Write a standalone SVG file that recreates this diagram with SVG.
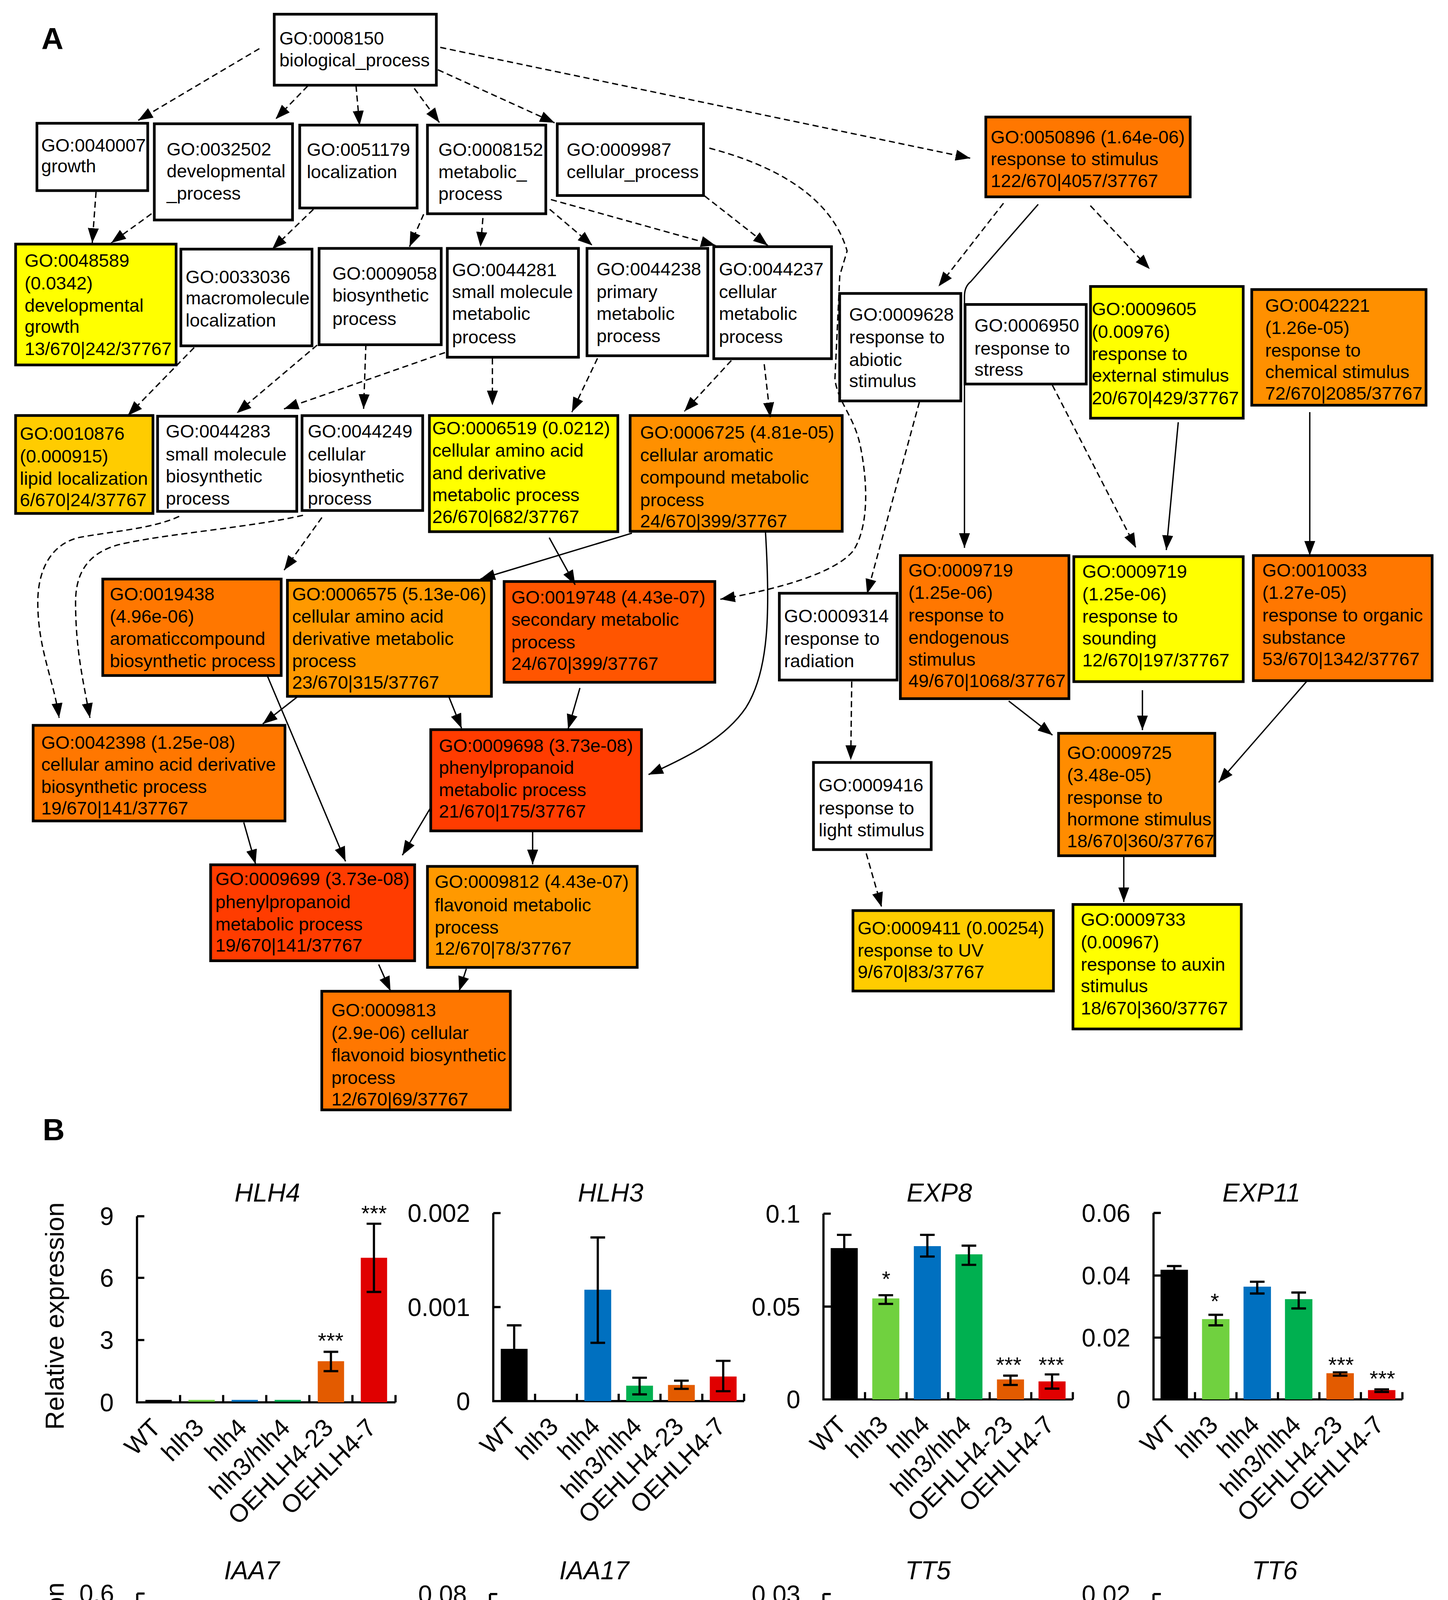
<svg xmlns="http://www.w3.org/2000/svg" width="3706" height="4914" viewBox="0 0 3706 4914">
<defs>
<marker id="ah" markerUnits="userSpaceOnUse" markerWidth="12" markerHeight="9" refX="12" refY="4.5" orient="auto" viewBox="0 0 12 9"><path d="M0,0 L12,4.5 L0,9 z" fill="#000" stroke="none"/></marker>
<style>
.n rect{stroke:#000;stroke-width:2.2}
.gt{font-family:"Liberation Sans",Arial,sans-serif;font-size:15px;fill:#000}
.d{fill:none;stroke:#000;stroke-width:1.1;stroke-dasharray:5 3;marker-end:url(#ah)}
.s{fill:none;stroke:#000;stroke-width:1.1;marker-end:url(#ah)}
.ax{fill:none;stroke:#000;stroke-width:1.8}
.eb{fill:none;stroke:#000;stroke-width:1.8}
.f{font-family:"Liberation Sans",Arial,sans-serif;fill:#000}
.tl{font-size:20.5px;text-anchor:end}
.xl{font-size:20.5px;text-anchor:end}
.ti{font-size:21px;font-style:italic;text-anchor:middle}
.st{font-size:18px;text-anchor:middle}
.yl{font-size:21.3px;text-anchor:middle}
.pl{font-size:25px;font-weight:bold}
.w{fill:#fff}.y{fill:#FFFF00}.g{fill:#FFCC00}.o1{fill:#FF9000}.o2{fill:#FF9900}.o3{fill:#FF7700}.o4{fill:#FF5500}.o5{fill:#FF3C00}.o6{fill:#FF8C00}
.c0{fill:#000}.c1{fill:#70D13F}.c2{fill:#0070C0}.c3{fill:#00B050}.c4{fill:#E35B00}.c5{fill:#E00000}
</style>
</defs>
<rect x="0" y="0" width="3706" height="4914" fill="#fff"/>
<g transform="scale(3.1195,3.134)">
<text class="f pl" x="34" y="40.3">A</text>
<text class="f pl" x="35" y="931.4">B</text>

<g id="nodes">
<g class="n" id="GO0008150"><rect class="w" x="225" y="11.6" width="133" height="58"/><text class="gt"><tspan x="229.2" y="36.4">GO:0008150</tspan><tspan x="229.2" y="54.4">biological_process</tspan></text></g>
<g class="n" id="GO0040007"><rect class="w" x="30.3" y="100.7" width="90.9" height="55"/><text class="gt"><tspan x="33.8" y="123.7">GO:0040007</tspan><tspan x="33.8" y="140.7">growth</tspan></text></g>
<g class="n" id="GO0032502"><rect class="w" x="126.6" y="101.1" width="113.4" height="78.6"/><text class="gt"><tspan x="136.7" y="127">GO:0032502</tspan><tspan x="136.7" y="145">developmental</tspan><tspan x="136.7" y="163">_process</tspan></text></g>
<g class="n" id="GO0051179"><rect class="w" x="245.9" y="102.2" width="96.3" height="67.7"/><text class="gt"><tspan x="251.7" y="127.4">GO:0051179</tspan><tspan x="251.7" y="145.4">localization</tspan></text></g>
<g class="n" id="GO0008152"><rect class="w" x="350.7" y="102.2" width="97.1" height="72.4"/><text class="gt"><tspan x="359.7" y="127.4">GO:0008152</tspan><tspan x="359.7" y="145.4">metabolic_</tspan><tspan x="359.7" y="163.4">process</tspan></text></g>
<g class="n" id="GO0009987"><rect class="w" x="457.2" y="101.1" width="120" height="58.6"/><text class="gt"><tspan x="464.9" y="127.4">GO:0009987</tspan><tspan x="464.9" y="145.4">cellular_process</tspan></text></g>
<g class="n" id="GO0050896"><rect class="o3" x="808.8" y="95.6" width="167.7" height="65.2"/><text class="gt"><tspan x="812.8" y="117.2">GO:0050896 (1.64e-06)</tspan><tspan x="812.8" y="135.1">response to stimulus</tspan><tspan x="812.8" y="152.9">122/670|4057/37767</tspan></text></g>
<g class="n" id="GO0048589"><rect class="y" x="12.8" y="199.4" width="131.7" height="98.7"/><text class="gt"><tspan x="20.2" y="218">GO:0048589</tspan><tspan x="20.2" y="236.3">(0.0342)</tspan><tspan x="20.2" y="254.6">developmental</tspan><tspan x="20.2" y="271.9">growth</tspan><tspan x="20.2" y="290.2">13/670|242/37767</tspan></text></g>
<g class="n" id="GO0033036"><rect class="w" x="148.4" y="203.5" width="107.6" height="79"/><text class="gt"><tspan x="152.3" y="231.2">GO:0033036</tspan><tspan x="152.3" y="248.5">macromolecule</tspan><tspan x="152.3" y="266.8">localization</tspan></text></g>
<g class="n" id="GO0009058"><rect class="w" x="261.8" y="202.9" width="100.2" height="78.7"/><text class="gt"><tspan x="272.7" y="228.5">GO:0009058</tspan><tspan x="272.7" y="246.4">biosynthetic</tspan><tspan x="272.7" y="265.4">process</tspan></text></g>
<g class="n" id="GO0044281"><rect class="w" x="367" y="202.9" width="107.6" height="88.9"/><text class="gt"><tspan x="370.9" y="225.5">GO:0044281</tspan><tspan x="370.9" y="243.4">small molecule</tspan><tspan x="370.9" y="261.3">metabolic</tspan><tspan x="370.9" y="280.4">process</tspan></text></g>
<g class="n" id="GO0044238"><rect class="w" x="481.6" y="202.9" width="99.1" height="87.7"/><text class="gt"><tspan x="489.4" y="225.1">GO:0044238</tspan><tspan x="489.4" y="243.4">primary</tspan><tspan x="489.4" y="261.3">metabolic</tspan><tspan x="489.4" y="279.6">process</tspan></text></g>
<g class="n" id="GO0044237"><rect class="w" x="585.6" y="201.5" width="96.6" height="91.5"/><text class="gt"><tspan x="589.8" y="225.1">GO:0044237</tspan><tspan x="589.8" y="243.4">cellular</tspan><tspan x="589.8" y="261.3">metabolic</tspan><tspan x="589.8" y="280">process</tspan></text></g>
<g class="n" id="GO0009628"><rect class="w" x="688.9" y="239.7" width="99.4" height="87.8"/><text class="gt"><tspan x="696.7" y="262.1">GO:0009628</tspan><tspan x="696.7" y="280.4">response to</tspan><tspan x="696.7" y="298.9">abiotic</tspan><tspan x="696.7" y="316.3">stimulus</tspan></text></g>
<g class="n" id="GO0006950"><rect class="w" x="791.8" y="248.7" width="99.4" height="65"/><text class="gt"><tspan x="799.5" y="270.9">GO:0006950</tspan><tspan x="799.5" y="289.8">response to</tspan><tspan x="799.5" y="307.1">stress</tspan></text></g>
<g class="n" id="GO0009605"><rect class="y" x="894.7" y="234" width="125.3" height="107.6"/><text class="gt"><tspan x="895.8" y="257.6">GO:0009605</tspan><tspan x="895.8" y="276">(0.00976)</tspan><tspan x="895.8" y="294.3">response to</tspan><tspan x="895.8" y="311.7">external stimulus</tspan><tspan x="895.8" y="330.1">20/670|429/37767</tspan></text></g>
<g class="n" id="GO0042221"><rect class="o1" x="1027" y="236.5" width="143" height="94.5"/><text class="gt"><tspan x="1038" y="254.6">GO:0042221</tspan><tspan x="1038" y="272.9">(1.26e-05)</tspan><tspan x="1038" y="291.2">response to</tspan><tspan x="1038" y="309">chemical stimulus</tspan><tspan x="1038" y="326.4">72/670|2085/37767</tspan></text></g>
<g class="n" id="GO0010876"><rect class="g" x="12.8" y="339.4" width="112.7" height="80"/><text class="gt"><tspan x="16.3" y="359.3">GO:0010876</tspan><tspan x="16.3" y="377.7">(0.000915)</tspan><tspan x="16.3" y="396">lipid localization</tspan><tspan x="16.3" y="413.4">6/670|24/37767</tspan></text></g>
<g class="n" id="GO0044283"><rect class="w" x="129.3" y="340" width="114.2" height="77.7"/><text class="gt"><tspan x="136" y="357.5">GO:0044283</tspan><tspan x="136" y="376.3">small molecule</tspan><tspan x="136" y="394.1">biosynthetic</tspan><tspan x="136" y="412.4">process</tspan></text></g>
<g class="n" id="GO0044249"><rect class="w" x="247.8" y="339.5" width="99" height="77.5"/><text class="gt"><tspan x="252.5" y="357.5">GO:0044249</tspan><tspan x="252.5" y="376.3">cellular</tspan><tspan x="252.5" y="394.1">biosynthetic</tspan><tspan x="252.5" y="412.4">process</tspan></text></g>
<g class="n" id="GO0006519"><rect class="y" x="352.3" y="339.4" width="154.6" height="94.9"/><text class="gt"><tspan x="354.6" y="354.7">GO:0006519 (0.0212)</tspan><tspan x="354.6" y="373.1">cellular amino acid</tspan><tspan x="354.6" y="391.4">and derivative</tspan><tspan x="354.6" y="409.3">metabolic process</tspan><tspan x="354.6" y="427.1">26/670|682/37767</tspan></text></g>
<g class="n" id="GO0006725"><rect class="o1" x="517" y="339.4" width="174" height="94.6"/><text class="gt"><tspan x="525.2" y="358.4">GO:0006725 (4.81e-05)</tspan><tspan x="525.2" y="376.7">cellular aromatic</tspan><tspan x="525.2" y="395">compound metabolic</tspan><tspan x="525.2" y="413.4">process</tspan><tspan x="525.2" y="430.8">24/670|399/37767</tspan></text></g>
<g class="n" id="GO0019438"><rect class="o3" x="84.3" y="473" width="146.4" height="78.8"/><text class="gt"><tspan x="90.1" y="490.3">GO:0019438</tspan><tspan x="90.1" y="508.6">(4.96e-06)</tspan><tspan x="90.1" y="526.9">aromaticcompound</tspan><tspan x="90.1" y="544.9">biosynthetic process</tspan></text></g>
<g class="n" id="GO0006575"><rect class="o2" x="235.8" y="474" width="167.4" height="94.8"/><text class="gt"><tspan x="239.7" y="490.3">GO:0006575 (5.13e-06)</tspan><tspan x="239.7" y="508.6">cellular amino acid</tspan><tspan x="239.7" y="526.9">derivative metabolic</tspan><tspan x="239.7" y="544.9">process</tspan><tspan x="239.7" y="562.6">23/670|315/37767</tspan></text></g>
<g class="n" id="GO0019748"><rect class="o4" x="413.6" y="475" width="172.9" height="82.3"/><text class="gt"><tspan x="419.5" y="493">GO:0019748 (4.43e-07)</tspan><tspan x="419.5" y="511.3">secondary metabolic</tspan><tspan x="419.5" y="529.7">process</tspan><tspan x="419.5" y="547.1">24/670|399/37767</tspan></text></g>
<g class="n" id="GO0009314"><rect class="w" x="639.4" y="484.6" width="96.6" height="70.9"/><text class="gt"><tspan x="643.3" y="508.3">GO:0009314</tspan><tspan x="643.3" y="526.9">response to</tspan><tspan x="643.3" y="544.9">radiation</tspan></text></g>
<g class="n" id="GO0009719a"><rect class="o3" x="738.7" y="453.8" width="138.3" height="116.9"/><text class="gt"><tspan x="745.3" y="471">GO:0009719</tspan><tspan x="745.3" y="489.3">(1.25e-06)</tspan><tspan x="745.3" y="507.6">response to</tspan><tspan x="745.3" y="526">endogenous</tspan><tspan x="745.3" y="543.8">stimulus</tspan><tspan x="745.3" y="561.3">49/670|1068/37767</tspan></text></g>
<g class="n" id="GO0009719b"><rect class="y" x="881" y="454.7" width="139" height="102.1"/><text class="gt"><tspan x="888" y="471.9">GO:0009719</tspan><tspan x="888" y="490.3">(1.25e-06)</tspan><tspan x="888" y="508.6">response to</tspan><tspan x="888" y="526.6">sounding</tspan><tspan x="888" y="544.3">12/670|197/37767</tspan></text></g>
<g class="n" id="GO0010033"><rect class="o3" x="1028.3" y="453.8" width="146.7" height="102.2"/><text class="gt"><tspan x="1035.7" y="471">GO:0010033</tspan><tspan x="1035.7" y="489.3">(1.27e-05)</tspan><tspan x="1035.7" y="507.6">response to organic</tspan><tspan x="1035.7" y="526">substance</tspan><tspan x="1035.7" y="543.4">53/670|1342/37767</tspan></text></g>
<g class="n" id="GO0042398"><rect class="o3" x="27.2" y="592.5" width="206.6" height="78.1"/><text class="gt"><tspan x="33.8" y="611.7">GO:0042398 (1.25e-08)</tspan><tspan x="33.8" y="629.5">cellular amino acid derivative</tspan><tspan x="33.8" y="647.8">biosynthetic process</tspan><tspan x="33.8" y="665.3">19/670|141/37767</tspan></text></g>
<g class="n" id="GO0009698"><rect class="o5" x="353.4" y="596" width="172.9" height="82.7"/><text class="gt"><tspan x="360.1" y="614.1">GO:0009698 (3.73e-08)</tspan><tspan x="360.1" y="632">phenylpropanoid</tspan><tspan x="360.1" y="650.2">metabolic process</tspan><tspan x="360.1" y="667.8">21/670|175/37767</tspan></text></g>
<g class="n" id="GO0009416"><rect class="w" x="667.4" y="622.8" width="96.6" height="71.2"/><text class="gt"><tspan x="671.7" y="646.4">GO:0009416</tspan><tspan x="671.7" y="665.3">response to</tspan><tspan x="671.7" y="683">light stimulus</tspan></text></g>
<g class="n" id="GO0009725"><rect class="o6" x="868.5" y="599" width="128.2" height="100"/><text class="gt"><tspan x="875.5" y="620">GO:0009725</tspan><tspan x="875.5" y="638.3">(3.48e-05)</tspan><tspan x="875.5" y="656.6">response to</tspan><tspan x="875.5" y="674.3">hormone stimulus</tspan><tspan x="875.5" y="692.2">18/670|360/37767</tspan></text></g>
<g class="n" id="GO0009699"><rect class="o5" x="172.8" y="706.4" width="167.4" height="78.4"/><text class="gt"><tspan x="176.7" y="723">GO:0009699 (3.73e-08)</tspan><tspan x="176.7" y="741.8">phenylpropanoid</tspan><tspan x="176.7" y="760.1">metabolic process</tspan><tspan x="176.7" y="777.2">19/670|141/37767</tspan></text></g>
<g class="n" id="GO0009812"><rect class="o2" x="350.7" y="707.7" width="172.1" height="82.5"/><text class="gt"><tspan x="356.6" y="725.4">GO:0009812 (4.43e-07)</tspan><tspan x="356.6" y="744.3">flavonoid metabolic</tspan><tspan x="356.6" y="762.6">process</tspan><tspan x="356.6" y="779.7">12/670|78/37767</tspan></text></g>
<g class="n" id="GO0009411"><rect class="g" x="699.8" y="743.8" width="164.5" height="65.7"/><text class="gt"><tspan x="703.6" y="763.4">GO:0009411 (0.00254)</tspan><tspan x="703.6" y="781.3">response to UV</tspan><tspan x="703.6" y="799">9/670|83/37767</tspan></text></g>
<g class="n" id="GO0009733"><rect class="y" x="880.3" y="738.8" width="138.1" height="101.7"/><text class="gt"><tspan x="886.8" y="756.3">GO:0009733</tspan><tspan x="886.8" y="774.6">(0.00967)</tspan><tspan x="886.8" y="792.9">response to auxin</tspan><tspan x="886.8" y="810.6">stimulus</tspan><tspan x="886.8" y="828.5">18/670|360/37767</tspan></text></g>
<g class="n" id="GO0009813"><rect class="o3" x="264" y="809.7" width="154.7" height="96.9"/><text class="gt"><tspan x="271.9" y="830.4">GO:0009813</tspan><tspan x="271.9" y="848.7">(2.9e-06) cellular</tspan><tspan x="271.9" y="867.1">flavonoid biosynthetic</tspan><tspan x="271.9" y="885.4">process</tspan><tspan x="271.9" y="903">12/670|69/37767</tspan></text></g>
</g>

<g id="connectors">
<path class="d" d="M212.8,39.7 L113.4,98.3"/>
<path class="d" d="M252.5,70.2 L226.1,97.3"/>
<path class="d" d="M292.1,70 L295,102.5"/>
<path class="d" d="M339.9,72.2 L360.5,100.1"/>
<path class="d" d="M359.3,57 L455,100.3"/>
<path class="d" d="M361.2,38.7 L796,129.2"/>
<path class="d" d="M78.8,156.7 L75.7,198.4"/>
<path class="d" d="M124.3,174.6 L91.3,198.4"/>
<path class="d" d="M257.1,171 L223.3,203.5"/>
<path class="d" d="M347.6,175 L336,201.5"/>
<path class="d" d="M396.2,178.1 L394.2,201.5"/>
<path class="d" d="M451,171 L486,200.5"/>
<path class="d" d="M452,163 L587,200.5"/>
<path class="d" d="M578,160 L630,200.6"/>
<path class="d" d="M582,121 C635,135 682,160 695,205 L689,225 L685,310 C688,330 701,340 706,365 C712,395 713,430 700,450 C685,468 640,481 591,489.5"/>
<path class="d" d="M823.3,166 L770,234"/>
<path class="d" d="M894.6,168 L943.3,219.8"/>
<path class="d" d="M863.4,314.6 L932,447.5"/>
<path class="d" d="M159.3,283.9 L104.9,339.4"/>
<path class="d" d="M260.2,281.9 L194.2,337.5"/>
<path class="d" d="M300.2,281 L298.3,334"/>
<path class="d" d="M365.1,288 L233,334"/>
<path class="d" d="M404,292.7 L404,331.1"/>
<path class="d" d="M490.2,292.7 L469.2,336.6"/>
<path class="d" d="M600,294.5 L561.5,336"/>
<path class="d" d="M627,297.5 L632,340.8"/>
<path class="d" d="M147,421.8 C125,432 92,434 65,439 C40,445 31,468 31,492 C31,530 44,555 48.5,586.4"/>
<path class="d" d="M248.6,420.9 C205,431 135,436 97,445 C72,452 62,468 62,492 C62,530 68,555 73.8,586.4"/>
<path class="d" d="M264.1,422.7 L233.1,465.7"/>
<path class="d" d="M754.3,328.4 L711.4,485"/>
<path class="d" d="M698.8,556.7 L698,620.8"/>
<path class="d" d="M710.7,697.1 L723.3,740.9"/>
<path class="s" d="M851.8,166.9 L796.5,230 Q791.3,234 791.3,242 L791.3,447.5"/>
<path class="s" d="M966.7,344.9 L956.9,449.3"/>
<path class="s" d="M1074.6,336.6 L1074.6,453.8"/>
<path class="s" d="M827.6,572.6 L863.5,600.5"/>
<path class="s" d="M937.3,563.8 L937.3,596.4"/>
<path class="s" d="M1072,556.7 L999.9,639.1"/>
<path class="s" d="M922,699.1 L922,736.8"/>
<path class="s" d="M450.6,439.2 L471.9,477.7"/>
<path class="s" d="M518.5,435.5 L394.2,472.9"/>
<path class="s" d="M628,434 C632,500 631,548 612,578 C595,603 565,618 532.1,632.7"/>
<path class="s" d="M243.9,569.3 L215.6,591.3"/>
<path class="s" d="M368.2,569 L378.7,594.9"/>
<path class="s" d="M475.8,562 L466.1,595.5"/>
<path class="s" d="M219.4,552.2 L283.5,703.6"/>
<path class="s" d="M200,671.8 L209.7,705.9"/>
<path class="s" d="M353.4,659.6 L330.1,698.6"/>
<path class="s" d="M437,679.1 L437,706"/>
<path class="s" d="M310.7,787.8 L320.4,809.5"/>
<path class="s" d="M382.6,791.4 L376.7,809.5"/>
</g>

<g id="ylabels">
<text class="f yl" transform="translate(52.3,1075) rotate(-90)">Relative expression</text>
<text class="f yl" transform="translate(52.3,1385.5) rotate(-90)">Relative expression</text>
</g>

<g id="chart-HLH4">
<text class="f ti" x="219.3" y="981.5">HLH4</text>
<path class="ax" d="M112.4,993.5 V1145.5 H324.5 M112.4,993.5 h6 M112.4,1043.8 h6 M112.4,1094.6 h6 M147.75,1145.5 v-6 M183.1,1145.5 v-6 M218.45,1145.5 v-6 M253.8,1145.5 v-6 M289.15,1145.5 v-6 M324.5,1145.5 v-6"/>
<text class="f tl" x="93.3" y="1000.8">9</text><text class="f tl" x="93.3" y="1051.1">6</text><text class="f tl" x="93.3" y="1101.9">3</text><text class="f tl" x="93.3" y="1152.8">0</text>
<rect class="c0" x="119.3" y="1143.5" width="21.6" height="1.5"/>
<rect class="c1" x="154.6" y="1143.5" width="21.6" height="1.5"/>
<rect class="c2" x="190" y="1143.5" width="21.6" height="1.5"/>
<rect class="c3" x="225.3" y="1143.5" width="21.6" height="1.5"/>
<rect class="c4" x="260.7" y="1111.9" width="21.6" height="33.6"/>
<rect class="c5" x="296" y="1027.4" width="21.6" height="118.1"/>
<path class="eb" d="M271.5,1104.2 V1120 M265.5,1104.2 h12 M265.5,1120 h12 M306.8,999.6 V1055.3 M300.8,999.6 h12 M300.8,1055.3 h12"/>
<text class="f st" x="271.3" y="1101">***</text><text class="f st" x="306.9" y="997.2">***</text>
<text class="f xl" transform="translate(133.1,1167.5) rotate(-45)">WT</text>
<text class="f xl" transform="translate(168.4,1167.5) rotate(-45)">hlh3</text>
<text class="f xl" transform="translate(203.8,1167.5) rotate(-45)">hlh4</text>
<text class="f xl" transform="translate(239.1,1167.5) rotate(-45)">hlh3/hlh4</text>
<text class="f xl" transform="translate(274.5,1167.5) rotate(-45)">OEHLH4-23</text>
<text class="f xl" transform="translate(309.8,1167.5) rotate(-45)">OEHLH4-7</text>
</g>

<g id="chart-HLH3">
<text class="f ti" x="501" y="981.5">HLH3</text>
<path class="ax" d="M404.7,990.9 V1144.5 H610.5 M404.7,990.9 h6 M404.7,1067.7 h6 M439,1144.5 v-6 M473.3,1144.5 v-6 M507.6,1144.5 v-6 M541.9,1144.5 v-6 M576.2,1144.5 v-6 M610.5,1144.5 v-6"/>
<text class="f tl" x="385.7" y="998.2">0.002</text><text class="f tl" x="385.7" y="1075">0.001</text><text class="f tl" x="385.7" y="1151.8">0</text>
<rect class="c0" x="410.85" y="1101.8" width="22" height="42.7"/>
<rect class="c2" x="479.45" y="1053.5" width="22" height="91"/>
<rect class="c3" x="513.75" y="1131.9" width="22" height="12.6"/>
<rect class="c4" x="548.05" y="1131.3" width="22" height="13.2"/>
<rect class="c5" x="582.35" y="1124.4" width="22" height="20.1"/>
<path class="eb" d="M421.85,1082.6 V1121 M415.85,1082.6 h12 M490.45,1010.8 V1096.9 M484.45,1010.8 h12 M484.45,1096.9 h12 M524.75,1125.4 V1139 M518.75,1125.4 h12 M518.75,1139 h12 M559.05,1127.8 V1134.5 M553.05,1127.8 h12 M553.05,1134.5 h12 M593.35,1111.6 V1136.4 M587.35,1111.6 h12 M587.35,1136.4 h12"/>
<text class="f xl" transform="translate(424.85,1166.5) rotate(-45)">WT</text>
<text class="f xl" transform="translate(459.15,1166.5) rotate(-45)">hlh3</text>
<text class="f xl" transform="translate(493.45,1166.5) rotate(-45)">hlh4</text>
<text class="f xl" transform="translate(527.75,1166.5) rotate(-45)">hlh3/hlh4</text>
<text class="f xl" transform="translate(562.05,1166.5) rotate(-45)">OEHLH4-23</text>
<text class="f xl" transform="translate(596.35,1166.5) rotate(-45)">OEHLH4-7</text>
</g>

<g id="chart-EXP8">
<text class="f ti" x="770.7" y="981.5">EXP8</text>
<path class="ax" d="M675.6,991.4 V1143.1 H880.2 M675.6,991.4 h6 M675.6,1067.3 h6 M709.7,1143.1 v-6 M743.8,1143.1 v-6 M777.9,1143.1 v-6 M812,1143.1 v-6 M846.1,1143.1 v-6 M880.2,1143.1 v-6"/>
<text class="f tl" x="656.6" y="998.7">0.1</text><text class="f tl" x="656.6" y="1074.6">0.05</text><text class="f tl" x="656.6" y="1150.4">0</text>
<rect class="c0" x="681.55" y="1019.5" width="22.2" height="123.6"/>
<rect class="c1" x="715.65" y="1060.6" width="22.2" height="82.5"/>
<rect class="c2" x="749.75" y="1017.9" width="22.2" height="125.2"/>
<rect class="c3" x="783.85" y="1024.6" width="22.2" height="118.5"/>
<rect class="c4" x="817.95" y="1126.8" width="22.2" height="16.3"/>
<rect class="c5" x="852.05" y="1128.4" width="22.2" height="14.7"/>
<path class="eb" d="M692.65,1008.7 V1030.3 M686.65,1008.7 h12 M726.75,1058 V1065.1 M720.75,1058 h12 M720.75,1065.1 h12 M760.85,1008.7 V1026.4 M754.85,1008.7 h12 M754.85,1026.4 h12 M794.95,1017.5 V1033.2 M788.95,1017.5 h12 M788.95,1033.2 h12 M829.05,1123.7 V1131.3 M823.05,1123.7 h12 M823.05,1131.3 h12 M863.15,1122.7 V1134.3 M857.15,1122.7 h12 M857.15,1134.3 h12"/>
<text class="f st" x="727" y="1050.7">*</text><text class="f st" x="827.6" y="1120.9">***</text><text class="f st" x="862.6" y="1120.9">***</text>
<text class="f xl" transform="translate(695.65,1165.1) rotate(-45)">WT</text>
<text class="f xl" transform="translate(729.75,1165.1) rotate(-45)">hlh3</text>
<text class="f xl" transform="translate(763.85,1165.1) rotate(-45)">hlh4</text>
<text class="f xl" transform="translate(797.95,1165.1) rotate(-45)">hlh3/hlh4</text>
<text class="f xl" transform="translate(832.05,1165.1) rotate(-45)">OEHLH4-23</text>
<text class="f xl" transform="translate(866.15,1165.1) rotate(-45)">OEHLH4-7</text>
</g>

<g id="chart-EXP11">
<text class="f ti" x="1034.9" y="981.5">EXP11</text>
<path class="ax" d="M946.4,990.8 V1143.1 H1150.6 M946.4,990.8 h6 M946.4,1041.9 h6 M946.4,1092.6 h6 M980.43,1143.1 v-6 M1014.46,1143.1 v-6 M1048.5,1143.1 v-6 M1082.5,1143.1 v-6 M1116.55,1143.1 v-6 M1150.6,1143.1 v-6"/>
<text class="f tl" x="927.4" y="998.1">0.06</text><text class="f tl" x="927.4" y="1049.2">0.04</text><text class="f tl" x="927.4" y="1099.9">0.02</text><text class="f tl" x="927.4" y="1150.4">0</text>
<rect class="c0" x="952.15" y="1037.2" width="22.5" height="105.9"/>
<rect class="c1" x="986.2" y="1077.5" width="22.5" height="65.6"/>
<rect class="c2" x="1020.25" y="1051" width="22.5" height="92.1"/>
<rect class="c3" x="1054.25" y="1061.2" width="22.5" height="81.9"/>
<rect class="c4" x="1088.25" y="1121.7" width="22.5" height="21.4"/>
<rect class="c5" x="1122.35" y="1135.5" width="22.5" height="7.6"/>
<path class="eb" d="M963.4,1034.2 V1040.2 M957.4,1034.2 h12 M997.45,1074 V1082.6 M991.45,1074 h12 M991.45,1082.6 h12 M1031.5,1047 V1056.6 M1025.5,1047 h12 M1025.5,1056.6 h12 M1065.5,1055.8 V1068.8 M1059.5,1055.8 h12 M1059.5,1068.8 h12 M1099.5,1121 V1123.7 M1093.5,1121 h12 M1093.5,1123.7 h12 M1133.6,1134.9 V1137 M1127.6,1134.9 h12 M1127.6,1137 h12"/>
<text class="f st" x="996.7" y="1069">*</text><text class="f st" x="1100.3" y="1120.9">***</text><text class="f st" x="1134.2" y="1132.1">***</text>
<text class="f xl" transform="translate(966.4,1165.1) rotate(-45)">WT</text>
<text class="f xl" transform="translate(1000.45,1165.1) rotate(-45)">hlh3</text>
<text class="f xl" transform="translate(1034.5,1165.1) rotate(-45)">hlh4</text>
<text class="f xl" transform="translate(1068.5,1165.1) rotate(-45)">hlh3/hlh4</text>
<text class="f xl" transform="translate(1102.5,1165.1) rotate(-45)">OEHLH4-23</text>
<text class="f xl" transform="translate(1136.6,1165.1) rotate(-45)">OEHLH4-7</text>
</g>

<g id="chart-IAA7">
<text class="f ti" x="206.6" y="1290.2">IAA7</text>
<path class="ax" d="M112.6,1301.7 V1453.7 H329.4 M112.6,1301.7 h6 M112.6,1352.4 h6 M112.6,1403 h6 M148.73,1453.7 v-6 M184.86,1453.7 v-6 M221,1453.7 v-6 M257.13,1453.7 v-6 M293.26,1453.7 v-6 M329.4,1453.7 v-6"/>
<text class="f tl" x="93.6" y="1309">0.6</text><text class="f tl" x="93.6" y="1359.7">0.4</text><text class="f tl" x="93.6" y="1410.3">0.2</text><text class="f tl" x="93.6" y="1461">0</text>
<rect class="c0" x="118.9" y="1370.3" width="23.5" height="83.4"/>
<rect class="c1" x="155.05" y="1343.9" width="23.5" height="109.8"/>
<rect class="c2" x="191.15" y="1348.2" width="23.5" height="105.5"/>
<rect class="c3" x="227.35" y="1343.9" width="23.5" height="109.8"/>
<rect class="c4" x="263.45" y="1420.6" width="23.5" height="33.1"/>
<rect class="c5" x="299.55" y="1435.7" width="23.5" height="18"/>
<path class="eb" d="M130.67,1364.5 V1376.1 M124.67,1364.5 h12 M166.8,1326.6 V1362.7 M160.8,1326.6 h12 M160.8,1362.7 h12 M202.9,1325.3 V1371.4 M196.9,1325.3 h12 M196.9,1371.4 h12 M239.1,1311.4 V1376.8 M233.1,1311.4 h12 M233.1,1376.8 h12 M275.2,1411.5 V1429.9 M269.2,1411.5 h12 M269.2,1429.9 h12 M311.3,1429.9 V1441.3 M305.3,1429.9 h12 M305.3,1441.3 h12"/>
<text class="f st" x="276.6" y="1407.4">***</text><text class="f st" x="310.7" y="1422.9">***</text>
<text class="f xl" transform="translate(133.67,1475.7) rotate(-45)">WT</text>
<text class="f xl" transform="translate(169.8,1475.7) rotate(-45)">hlh3</text>
<text class="f xl" transform="translate(205.9,1475.7) rotate(-45)">hlh4</text>
<text class="f xl" transform="translate(242.1,1475.7) rotate(-45)">hlh3/hlh4</text>
<text class="f xl" transform="translate(278.2,1475.7) rotate(-45)">OEHLH4-23</text>
<text class="f xl" transform="translate(314.3,1475.7) rotate(-45)">OEHLH4-7</text>
</g>

<g id="chart-IAA17">
<text class="f ti" x="487.5" y="1290.2">IAA17</text>
<path class="ax" d="M402,1302.1 V1454.8 H607.8 M402,1302.1 h6 M402,1340.4 h6 M402,1379 h6 M402,1416.9 h6 M436.3,1454.8 v-6 M470.6,1454.8 v-6 M504.9,1454.8 v-6 M539.2,1454.8 v-6 M573.5,1454.8 v-6 M607.8,1454.8 v-6"/>
<text class="f tl" x="383" y="1309.4">0.08</text><text class="f tl" x="383" y="1347.7">0.06</text><text class="f tl" x="383" y="1386.3">0.04</text><text class="f tl" x="383" y="1424.2">0.02</text><text class="f tl" x="383" y="1462.1">0</text>
<rect class="c0" x="408.05" y="1373.6" width="22.2" height="81.2"/>
<rect class="c1" x="442.35" y="1371.8" width="22.2" height="83"/>
<rect class="c2" x="476.65" y="1366.6" width="22.2" height="88.2"/>
<rect class="c3" x="510.95" y="1356.5" width="22.2" height="98.3"/>
<rect class="c4" x="545.25" y="1427.3" width="22.2" height="27.5"/>
<rect class="c5" x="579.55" y="1428.3" width="22.2" height="26.5"/>
<path class="eb" d="M419.15,1363.4 V1383.8 M413.15,1363.4 h12 M453.45,1355.8 V1388.7 M447.45,1355.8 h12 M447.45,1388.7 h12 M487.75,1346.1 V1388.1 M481.75,1346.1 h12 M481.75,1388.1 h12 M522.05,1333.1 V1381.1 M516.05,1333.1 h12 M516.05,1381.1 h12 M556.35,1420.1 V1434.8 M550.35,1420.1 h12 M550.35,1434.8 h12 M590.65,1420.1 V1437 M584.65,1420.1 h12 M584.65,1437 h12"/>
<text class="f st" x="556.2" y="1418.2">***</text><text class="f st" x="590.4" y="1418.2">***</text>
<text class="f xl" transform="translate(422.15,1476.8) rotate(-45)">WT</text>
<text class="f xl" transform="translate(456.45,1476.8) rotate(-45)">hlh3</text>
<text class="f xl" transform="translate(490.75,1476.8) rotate(-45)">hlh4</text>
<text class="f xl" transform="translate(525.05,1476.8) rotate(-45)">hlh3/hlh4</text>
<text class="f xl" transform="translate(559.35,1476.8) rotate(-45)">OEHLH4-23</text>
<text class="f xl" transform="translate(593.65,1476.8) rotate(-45)">OEHLH4-7</text>
</g>

<g id="chart-TT5">
<text class="f ti" x="761.3" y="1290.2">TT5</text>
<path class="ax" d="M675.6,1302.1 V1452.6 H880.2 M675.6,1302.1 h6 M675.6,1351.9 h6 M675.6,1401.7 h6 M709.7,1452.6 v-6 M743.8,1452.6 v-6 M777.9,1452.6 v-6 M812,1452.6 v-6 M846.1,1452.6 v-6 M880.2,1452.6 v-6"/>
<text class="f tl" x="656.6" y="1309.4">0.03</text><text class="f tl" x="656.6" y="1359.2">0.02</text><text class="f tl" x="656.6" y="1409">0.01</text><text class="f tl" x="656.6" y="1459.9">0</text>
<rect class="c0" x="681.4" y="1417.3" width="22.5" height="35.3"/>
<rect class="c1" x="715.5" y="1415.1" width="22.5" height="37.5"/>
<rect class="c2" x="749.6" y="1375.1" width="22.5" height="77.5"/>
<rect class="c3" x="783.7" y="1392" width="22.5" height="60.6"/>
<rect class="c4" x="817.8" y="1439" width="22.5" height="13.6"/>
<rect class="c5" x="851.9" y="1439.6" width="22.5" height="13"/>
<path class="eb" d="M692.65,1416.2 V1418.4 M686.65,1416.2 h12 M726.75,1409.3 V1422.9 M720.75,1409.3 h12 M720.75,1422.9 h12 M760.85,1355.8 V1396.3 M754.85,1355.8 h12 M754.85,1396.3 h12 M794.95,1387 V1398.7 M788.95,1387 h12 M788.95,1398.7 h12 M829.05,1435.9 V1442.2 M823.05,1435.9 h12 M823.05,1442.2 h12 M863.15,1435.9 V1443.3 M857.15,1435.9 h12 M857.15,1443.3 h12"/>
<text class="f st" x="828.3" y="1431.2">***</text><text class="f st" x="863.4" y="1431.2">***</text>
<text class="f xl" transform="translate(695.65,1474.6) rotate(-45)">WT</text>
<text class="f xl" transform="translate(729.75,1474.6) rotate(-45)">hlh3</text>
<text class="f xl" transform="translate(763.85,1474.6) rotate(-45)">hlh4</text>
<text class="f xl" transform="translate(797.95,1474.6) rotate(-45)">hlh3/hlh4</text>
<text class="f xl" transform="translate(832.05,1474.6) rotate(-45)">OEHLH4-23</text>
<text class="f xl" transform="translate(866.15,1474.6) rotate(-45)">OEHLH4-7</text>
</g>

<g id="chart-TT6">
<text class="f ti" x="1045.8" y="1290.2">TT6</text>
<path class="ax" d="M946.4,1302.1 V1453.7 H1150.6 M946.4,1302.1 h6 M946.4,1377.5 h6 M980.43,1453.7 v-6 M1014.46,1453.7 v-6 M1048.5,1453.7 v-6 M1082.5,1453.7 v-6 M1116.55,1453.7 v-6 M1150.6,1453.7 v-6"/>
<text class="f tl" x="927.4" y="1309.4">0.02</text><text class="f tl" x="927.4" y="1384.8">0.01</text><text class="f tl" x="927.4" y="1461">0</text>
<rect class="c0" x="952.15" y="1398" width="22.5" height="55.7"/>
<rect class="c1" x="986.2" y="1406" width="22.5" height="47.7"/>
<rect class="c2" x="1020.25" y="1377.9" width="22.5" height="75.8"/>
<rect class="c3" x="1054.25" y="1342.8" width="22.5" height="110.9"/>
<rect class="c4" x="1088.25" y="1432" width="22.5" height="21.7"/>
<rect class="c5" x="1122.35" y="1432.7" width="22.5" height="21"/>
<path class="eb" d="M963.4,1386.1 V1409.9 M957.4,1386.1 h12 M997.45,1391.3 V1422.3 M991.45,1391.3 h12 M991.45,1422.3 h12 M1031.5,1353.2 V1403.9 M1025.5,1353.2 h12 M1025.5,1403.9 h12 M1065.5,1316.6 V1369.9 M1059.5,1316.6 h12 M1059.5,1369.9 h12 M1099.5,1425.5 V1438.5 M1093.5,1425.5 h12 M1093.5,1438.5 h12 M1133.6,1426.2 V1438 M1127.6,1426.2 h12 M1127.6,1438 h12"/>
<text class="f st" x="1099.9" y="1422.9">***</text><text class="f st" x="1134.2" y="1422.9">***</text>
<text class="f xl" transform="translate(966.4,1475.7) rotate(-45)">WT</text>
<text class="f xl" transform="translate(1000.45,1475.7) rotate(-45)">hlh3</text>
<text class="f xl" transform="translate(1034.5,1475.7) rotate(-45)">hlh4</text>
<text class="f xl" transform="translate(1068.5,1475.7) rotate(-45)">hlh3/hlh4</text>
<text class="f xl" transform="translate(1102.5,1475.7) rotate(-45)">OEHLH4-23</text>
<text class="f xl" transform="translate(1136.6,1475.7) rotate(-45)">OEHLH4-7</text>
</g>
</g>
</svg>
